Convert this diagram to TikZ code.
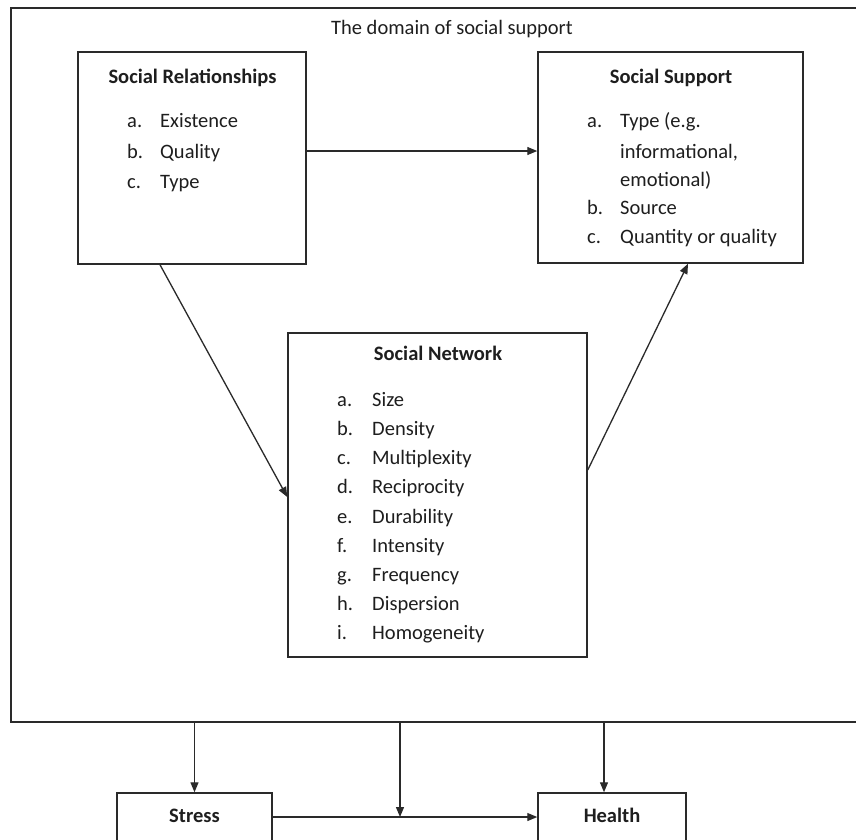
\documentclass[tikz,border=0pt]{standalone}
\usepackage{fontspec}
\setmainfont{Carlito}
\usetikzlibrary{arrows.meta}
\definecolor{linec}{HTML}{2A2A2A}
\definecolor{txtc}{HTML}{1E1E1E}
\begin{document}
\begin{tikzpicture}[x=1pt,y=-1pt,
  box/.style={draw=linec, line width=1.5pt, rectangle, inner sep=0pt},
  arr/.style={draw=linec, line width=1.3pt, -{Triangle[length=10pt,width=8pt]}},
  hd/.style={font=\fontsize{20.5}{24}\selectfont\bfseries, text=txtc, anchor=base, inner sep=0pt},
  ttl/.style={font=\fontsize{20.5}{24}\selectfont, text=txtc, anchor=base, inner sep=0pt},
  itm/.style={font=\fontsize{20.5}{24}\selectfont, text=txtc, anchor=base west, inner sep=0pt}]
\useasboundingbox (0,0) rectangle (856,839);
\fill[white] (0,0) rectangle (856,839);
\clip (0,0) rectangle (856,839);
% outer domain
\node[box, minimum width=889pt, minimum height=714pt] (domain) at (455.5,365) {};
\node[ttl] (dtitle) at (452,34) {The domain of social support};
% Social Relationships
\node[box, minimum width=228pt, minimum height=212pt] (sr) at (192,158) {};
\node[hd] (srh) at (192.5,83) {Social Relationships};
\foreach \l/\t/\y [count=\i] in {a./Existence/127.5, b./Quality/158, c./Type/188.5}{
  \node[itm] (srl\i) at (127,\y) {\l};
  \node[itm] (srt\i) at (160,\y) {\t};
}
% Social Support
\node[box, minimum width=265pt, minimum height=211pt] (ss) at (670.5,157.5) {};
\node[hd] (ssh) at (671,83) {Social Support};
\node[itm] (ssl1) at (587,127.5) {a.};
\node[itm] (sst1) at (620,127.5) {Type (e.g.};
\node[itm] (sst1b) at (620,158) {informational,};
\node[itm] (sst1c) at (620,186.5) {emotional)};
\node[itm] (ssl2) at (587,214.5) {b.};
\node[itm] (sst2) at (620,214.5) {Source};
\node[itm] (ssl3) at (587,243.5) {c.};
\node[itm] (sst3) at (620,243.5) {Quantity or quality};
% Social Network
\node[box, minimum width=299pt, minimum height=324pt] (sn) at (437.5,495) {};
\node[hd] (snh) at (438,360) {Social Network};
\foreach \l/\t/\y [count=\i] in {a./Size/406, b./Density/435, c./Multiplexity/464, d./Reciprocity/493, e./Durability/523, f./Intensity/552, g./Frequency/581, h./Dispersion/610, i./Homogeneity/639}{
  \node[itm] (snl\i) at (337,\y) {\l};
  \node[itm] (snt\i) at (372,\y) {\t};
}
% Stress and Health
\node[box, minimum width=155pt, minimum height=90pt] (stress) at (194.5,838) {};
\node[hd] (stressh) at (194.5,822) {Stress};
\node[box, minimum width=148pt, minimum height=90pt] (health) at (612,838) {};
\node[hd] (healthh) at (612,822) {Health};
% connectors
\draw[arr] (sr.east |- 0,151) -- (ss.west |- 0,151);
\draw[arr] ([xshift=-32pt]sr.south) -- ([yshift=-2pt]sn.west);
\draw[arr] ([yshift=25pt]sn.east) -- ([xshift=17.5pt]ss.south);
\coordinate (mid) at (400,817);
\draw[arr] (domain.south -| stress.north) -- (stress.north);
\draw[arr] (domain.south -| health.north) ++(-8,0) -- ([xshift=-8pt]health.north);
\draw[arr] (domain.south -| mid) -- (mid);
\draw[arr] (stress.east |- mid) -- (health.west |- mid);
\end{tikzpicture}
\end{document}
